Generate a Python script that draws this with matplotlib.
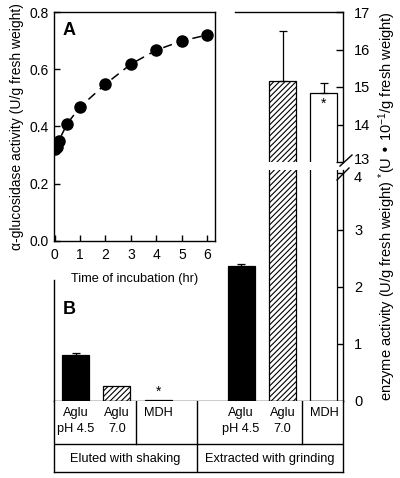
import matplotlib
matplotlib.use('Agg')
import matplotlib.pyplot as plt
from matplotlib.lines import Line2D
from matplotlib.transforms import ScaledTranslation

plt.rcParams['font.family'] = ['Liberation Sans', 'DejaVu Sans']
plt.rcParams['mathtext.default'] = 'regular'
plt.rcParams['hatch.linewidth'] = 0.8
plt.rcParams['axes.linewidth'] = 1.0

# ---------------- Panel A data ----------------
time_hr = [0, 0.083, 0.167, 0.5, 1, 2, 3, 4, 5, 6]
activity_A = [0.32, 0.33, 0.35, 0.41, 0.468, 0.548, 0.618, 0.667, 0.699, 0.72]
xticks_A = [0, 1, 2, 3, 4, 5, 6]
yticks_A = [0.0, 0.2, 0.4, 0.6, 0.8]

# ---------------- Panel B data ----------------
bar_labels = ['Aglu\npH 4.5', 'Aglu\n7.0', 'MDH', 'Aglu\npH 4.5', 'Aglu\n7.0', 'MDH']
bar_values = [0.81, 0.27, 0.02, 2.37, 15.16, 14.85]
bar_err_up = [0.03, 0.0, 0.0, 0.03, 1.34, 0.27]
bar_kind = ['solid', 'hatch', 'open', 'solid', 'hatch', 'open']
group_labels = ['Eluted with shaking', 'Extracted with grinding']
lower_ticks = [0, 1, 2, 3, 4]
upper_ticks = [13, 14, 15, 16, 17]

# layout
pos = [0, 1, 2, 4, 5, 6]
xlim = (-0.52, 6.46)
bw = 0.65
W, H = 400, 478

def fr(x0, y0, x1, y1):
    return [x0 / W, 1 - y1 / H, (x1 - x0) / W, (y1 - y0) / H]

fig = plt.figure(figsize=(4.0, 4.78), dpi=100)

ax_lo = fig.add_axes(fr(54, 170, 343, 401))
ax_hi = fig.add_axes(fr(54, 12, 343, 162))
ax_tb = fig.add_axes(fr(54, 401, 343, 472))
ax_in = fig.add_axes(fr(54, 12, 215, 241))

styles = {
    'solid': dict(color='black', edgecolor='black'),
    'hatch': dict(color='white', edgecolor='black', hatch='//////'),
    'open': dict(color='white', edgecolor='black'),
}

for ax in (ax_lo, ax_hi):
    for p, v, e, k in zip(pos, bar_values, bar_err_up, bar_kind):
        ax.bar(p, v, width=bw, linewidth=0.9, zorder=2, **styles[k])
        if e > 0:
            ax.errorbar(p, v, yerr=[[0], [e]], fmt='none', ecolor='black',
                        elinewidth=0.9, capsize=3, capthick=0.9, zorder=3)
    ax.set_xlim(*xlim)
    ax.set_xticks([])
    ax.yaxis.tick_right()
    ax.tick_params(axis='y', direction='in', length=5, width=1.0,
                   labelsize=10.5, pad=8)

ax_lo.set_ylim(0, 4.05)
ax_lo.set_yticks(lower_ticks)
ax_lo.spines['top'].set_visible(False)
ax_lo.spines['left'].set_bounds(0, 2.12)

ax_hi.set_ylim(13, 17)
ax_hi.set_yticks(upper_ticks)
ax_hi.spines['bottom'].set_visible(False)
ax_hi.spines['left'].set_visible(False)
ax_hi.spines['top'].set_bounds(3.85, xlim[1])
ax_hi.patch.set_alpha(0)
ax_lo.patch.set_alpha(0)

# nudge the crowded "13" / "4" labels apart slightly
lab13 = ax_hi.yaxis.get_major_ticks()[0].label2
lab13.set_transform(lab13.get_transform() + ScaledTranslation(0, 2.5 / 72, fig.dpi_scale_trans))
lab4 = ax_lo.yaxis.get_major_ticks()[-1].label2
lab4.set_transform(lab4.get_transform() + ScaledTranslation(0, -2.5 / 72, fig.dpi_scale_trans))

# asterisks
ax_lo.text(pos[2], bar_values[2] + 0.02, '*', ha='center', va='bottom', fontsize=10)
ax_hi.text(pos[5], bar_values[5] - 0.12, '*', ha='center', va='top', fontsize=10)

# break marks
for (x0, y0, x1, y1) in [(340, 166, 352, 155), (337, 180, 349, 168)]:
    fig.add_artist(Line2D([x0 / W, x1 / W], [1 - y0 / H, 1 - y1 / H],
                          color='black', lw=1.0))

# table
ax_tb.set_xlim(*xlim)
ax_tb.set_ylim(0, 1)
ax_tb.set_xticks([])
ax_tb.set_yticks([])
ax_tb.spines['top'].set_visible(False)
row_div = 0.394
ax_tb.axhline(row_div, color='black', lw=1.0)
for xd in (1.46, 5.47):
    ax_tb.plot([xd, xd], [row_div, 1], color='black', lw=1.0)
ax_tb.plot([2.93, 2.93], [0, 1], color='black', lw=1.0)
for p, lab in zip(pos, bar_labels):
    ax_tb.text(p, 0.91, lab, ha='center', va='top', fontsize=9.2,
               linespacing=1.4)
for cx, lab in zip([(xlim[0] + 2.93) / 2, (2.93 + xlim[1]) / 2], group_labels):
    ax_tb.text(cx, 0.19, lab, ha='center', va='center', fontsize=9.2)

# inset A
ax_in.plot(time_hr, activity_A, color='black', lw=1.1, dashes=(6, 4), zorder=2)
ax_in.plot(time_hr, activity_A, 'o', color='black', markersize=8, zorder=3)
ax_in.set_xlim(-0.02, 6.3)
ax_in.set_ylim(0, 0.8)
ax_in.set_xticks(xticks_A)
ax_in.set_yticks(yticks_A)
ax_in.set_yticklabels([f'{v:.1f}' for v in yticks_A])
ax_in.tick_params(direction='in', length=4, width=1.0, labelsize=10)
ax_in.tick_params(axis='x', pad=5)
ax_in.set_xlabel('Time of incubation (hr)', fontsize=9.2, labelpad=8)
ax_in.set_ylabel('α-glucosidase activity (U/g fresh weight)', fontsize=10,
                 labelpad=4)
ax_in.text(0.05, 0.955, 'A', transform=ax_in.transAxes, fontsize=13,
           fontweight='bold', ha='left', va='top')

fig.text(63 / W, 1 - 310 / H, 'B', fontsize=13, fontweight='bold',
         ha='left', va='center')

fig.text(387 / W, 1 - 206 / H,
         'enzyme activity (U/g fresh weight) $^{*}$(U • 10$^{-1}$/g fresh weight)',
         rotation=90, ha='center', va='center', fontsize=10.5)

fig.savefig('out.png', dpi=100)
